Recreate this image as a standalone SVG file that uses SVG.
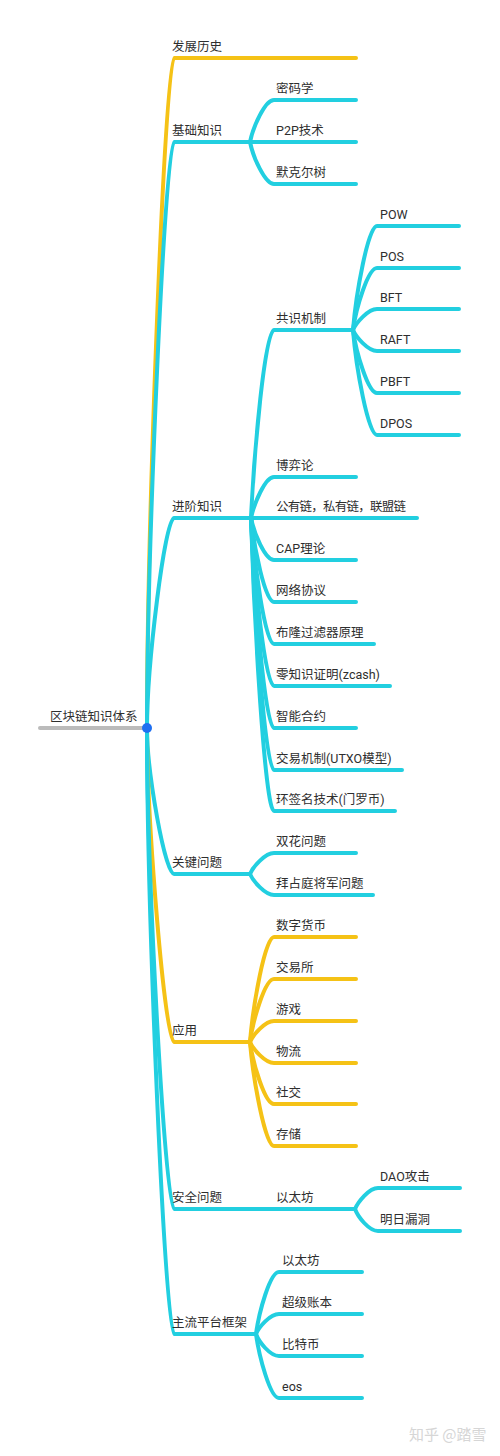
<svg xmlns="http://www.w3.org/2000/svg" width="500" height="1456" viewBox="0 0 500 1456">
<style>
.c{fill:none;stroke:#22CFE0;stroke-width:4;stroke-linecap:round;stroke-linejoin:round}
.y{fill:none;stroke:#F5C216;stroke-width:4;stroke-linecap:round;stroke-linejoin:round}
.t{font-family:"Roboto","Noto Sans CJK SC",sans-serif;font-size:12.5px;fill:#2e2e2e}
.w{font-family:"Noto Sans CJK SC",sans-serif;font-size:15px;fill:#d6d6d6}
</style>
<rect width="500" height="1456" fill="#fff"/>
<g id="connectors">
<line x1="40" y1="728" x2="147" y2="728" stroke="#BBBBBB" stroke-width="4" stroke-linecap="round"/>
<path class="y" d="M147 728 C147 527 165 58 174 58 H356"/>
<path class="c" d="M147 728 C147 552 165 142 174 142 H250"/>
<path class="c" d="M147 728 C147 665 165 518 174 518 H251"/>
<path class="c" d="M147 728 C147 772 165 874 174 874 H250"/>
<path class="y" d="M147 728 C147 822 165 1042 174 1042 H250"/>
<path class="c" d="M147 728 C147 872 165 1209 174 1209 H355"/>
<path class="c" d="M147 728 C147 910 165 1334 174 1334 H256"/>
<path class="c" d="M250 142 C253 127 265 100 274 100 H356"/>
<path class="c" d="M250 142 H356"/>
<path class="c" d="M250 142 C253 157 265 184 274 184 H356"/>
<path class="c" d="M251 518 C254 452 265 330 274 330 H353"/>
<path class="c" d="M251 518 C254 504 265 477 274 477 H356"/>
<path class="c" d="M251 518 H417"/>
<path class="c" d="M251 518 C254 533 265 560 274 560 H356"/>
<path class="c" d="M251 518 C254 547 265 602 274 602 H356"/>
<path class="c" d="M251 518 C254 562 265 644 274 644 H374"/>
<path class="c" d="M251 518 C254 577 265 686 274 686 H390"/>
<path class="c" d="M251 518 C254 592 265 728 274 728 H356"/>
<path class="c" d="M251 518 C254 606 265 770 274 770 H402"/>
<path class="c" d="M251 518 C254 621 265 811 274 811 H395"/>
<path class="c" d="M353 330 C356 294 368 226 377 226 H459"/>
<path class="c" d="M353 330 C356 308 368 268 377 268 H459"/>
<path class="c" d="M353 330 C356 323 368 309 377 309 H459"/>
<path class="c" d="M353 330 C356 337 368 351 377 351 H459"/>
<path class="c" d="M353 330 C356 352 368 393 377 393 H459"/>
<path class="c" d="M353 330 C356 367 368 435 377 435 H459"/>
<path class="c" d="M250 874 C253 867 265 853 274 853 H356"/>
<path class="c" d="M250 874 C253 881 265 895 274 895 H373"/>
<path class="y" d="M250 1042 C253 1005 265 937 274 937 H356"/>
<path class="y" d="M250 1042 C253 1020 265 979 274 979 H356"/>
<path class="y" d="M250 1042 C253 1035 265 1021 274 1021 H356"/>
<path class="y" d="M250 1042 C253 1049 265 1063 274 1063 H356"/>
<path class="y" d="M250 1042 C253 1064 265 1104 274 1104 H356"/>
<path class="y" d="M250 1042 C253 1078 265 1146 274 1146 H356"/>
<path class="c" d="M355 1209 C358 1202 369 1188 378 1188 H460"/>
<path class="c" d="M355 1209 C358 1217 369 1231 378 1231 H460"/>
<path class="c" d="M256 1334 C259 1312 270 1272 279 1272 H362"/>
<path class="c" d="M256 1334 C259 1327 270 1314 279 1314 H362"/>
<path class="c" d="M256 1334 C259 1342 270 1356 279 1356 H362"/>
<path class="c" d="M256 1334 C259 1356 270 1398 279 1398 H362"/>
</g>
<g id="root"><text class="t" x="50" y="721">区块链知识体系</text><circle cx="147" cy="728" r="5" fill="#1E6FF1"/></g>
<g id="n-history"><text class="t" x="172" y="51">发展历史</text></g>
<g id="n-basic"><text class="t" x="172" y="135">基础知识</text></g>
<g id="n-crypto"><text class="t" x="276" y="93">密码学</text></g>
<g id="n-p2p"><text class="t" x="276" y="135">P2P技术</text></g>
<g id="n-merkle"><text class="t" x="276" y="177">默克尔树</text></g>
<g id="n-advanced"><text class="t" x="172" y="511">进阶知识</text></g>
<g id="n-consensus"><text class="t" x="276" y="323">共识机制</text></g>
<g id="n-pow"><text class="t" x="380" y="219">POW</text></g>
<g id="n-pos"><text class="t" x="380" y="261">POS</text></g>
<g id="n-bft"><text class="t" x="380" y="302">BFT</text></g>
<g id="n-raft"><text class="t" x="380" y="344">RAFT</text></g>
<g id="n-pbft"><text class="t" x="380" y="386">PBFT</text></g>
<g id="n-dpos"><text class="t" x="380" y="428">DPOS</text></g>
<g id="n-game"><text class="t" x="276" y="470">博弈论</text></g>
<g id="n-chains"><text class="t" x="276" y="511" textLength="130" lengthAdjust="spacing">公有链，私有链，联盟链</text></g>
<g id="n-cap"><text class="t" x="276" y="553">CAP理论</text></g>
<g id="n-net"><text class="t" x="276" y="595">网络协议</text></g>
<g id="n-bloom"><text class="t" x="276" y="637">布隆过滤器原理</text></g>
<g id="n-zk"><text class="t" x="276" y="679">零知识证明(zcash)</text></g>
<g id="n-contract"><text class="t" x="276" y="721">智能合约</text></g>
<g id="n-utxo"><text class="t" x="276" y="763">交易机制(UTXO模型)</text></g>
<g id="n-ring"><text class="t" x="276" y="804">环签名技术(门罗币)</text></g>
<g id="n-key"><text class="t" x="172" y="867">关键问题</text></g>
<g id="n-double"><text class="t" x="276" y="846">双花问题</text></g>
<g id="n-byz"><text class="t" x="276" y="888">拜占庭将军问题</text></g>
<g id="n-app"><text class="t" x="172" y="1035">应用</text></g>
<g id="n-currency"><text class="t" x="276" y="930">数字货币</text></g>
<g id="n-exchange"><text class="t" x="276" y="972">交易所</text></g>
<g id="n-gamesapp"><text class="t" x="276" y="1014">游戏</text></g>
<g id="n-logistics"><text class="t" x="276" y="1056">物流</text></g>
<g id="n-social"><text class="t" x="276" y="1097">社交</text></g>
<g id="n-storage"><text class="t" x="276" y="1139">存储</text></g>
<g id="n-security"><text class="t" x="172" y="1202">安全问题</text></g>
<g id="n-eth-sec"><text class="t" x="276" y="1202">以太坊</text></g>
<g id="n-dao"><text class="t" x="380" y="1181">DAO攻击</text></g>
<g id="n-bug"><text class="t" x="380" y="1224">明日漏洞</text></g>
<g id="n-platform"><text class="t" x="172" y="1327">主流平台框架</text></g>
<g id="n-eth"><text class="t" x="282" y="1265">以太坊</text></g>
<g id="n-hyper"><text class="t" x="282" y="1307">超级账本</text></g>
<g id="n-btc"><text class="t" x="282" y="1349">比特币</text></g>
<g id="n-eos"><text class="t" x="282" y="1391">eos</text></g>
<text class="w" x="409" y="1440">知乎 @踏雪</text>
</svg>
